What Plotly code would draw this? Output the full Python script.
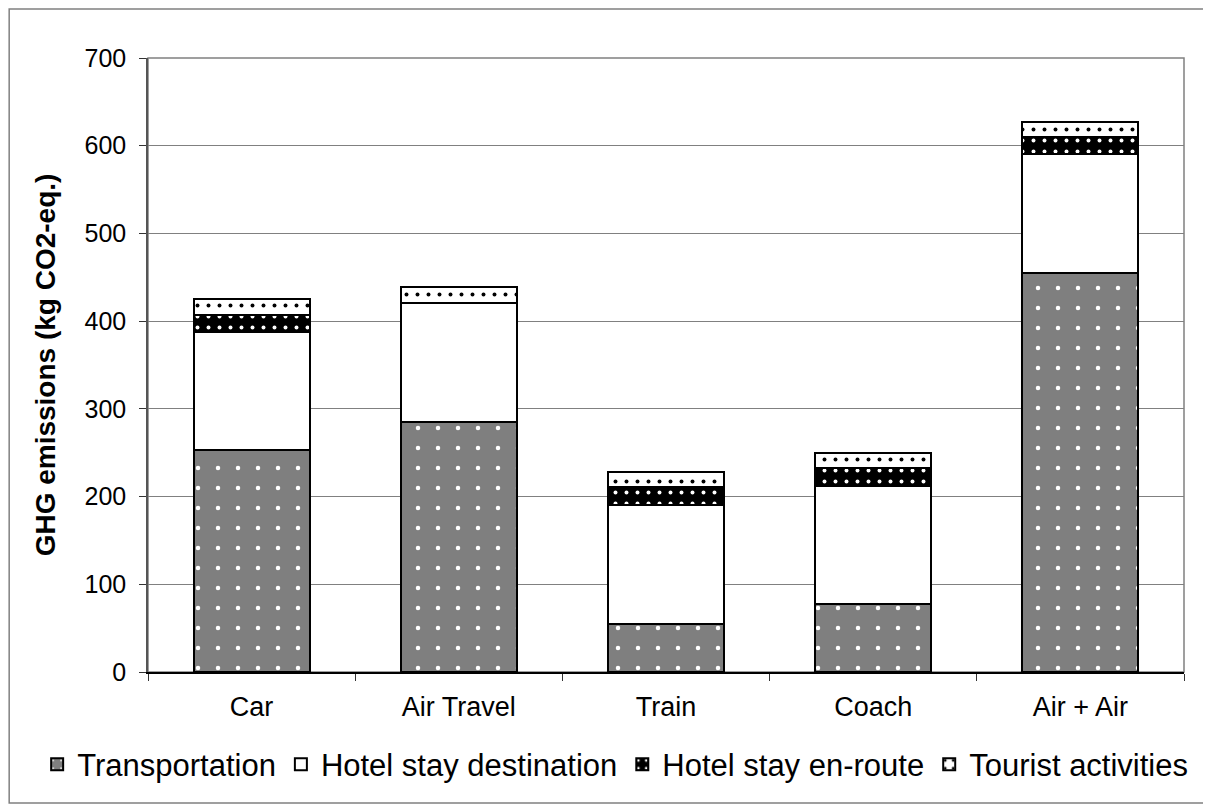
import plotly.graph_objects as go

categories = ["Car", "Air Travel", "Train", "Coach", "Air + Air"]
transportation = [253, 285, 55, 77, 455]
hotel_destination = [135, 136, 135, 135, 136]
hotel_enroute = [19, 0, 21, 21, 19]
tourist_activities = [18, 18, 17, 17, 17]
y_ticks = [0, 100, 200, 300, 400, 500, 600, 700]

FONT = "Liberation Sans, Arial, sans-serif"

series = [
    ("Transportation", transportation, "#7f7f7f", "white", ".", 20, 0.04),
    ("Hotel stay destination", hotel_destination, "white", "white", "", 8, 0.2),
    ("Hotel stay en-route", hotel_enroute, "black", "white", ".", 11, 0.1),
    ("Tourist activities", tourist_activities, "white", "black", ".", 11, 0.1),
]

fig = go.Figure()
for name, vals, bg, fg, shape, size, sol in series:
    pattern = dict(shape=shape, bgcolor=bg, fgcolor=fg, size=size, solidity=sol, fillmode="replace")
    fig.add_trace(go.Bar(
        name=name, x=categories, y=vals,
        marker=dict(color=bg, line=dict(color="black", width=2), pattern=pattern),
    ))

fig.update_layout(
    barmode="stack",
    bargap=0.44,
    width=1211, height=810,
    margin=dict(l=140, r=35, t=50, b=146, autoexpand=False),
    paper_bgcolor="white", plot_bgcolor="white",
    font=dict(family=FONT, color="black"),
    showlegend=True,
    legend=dict(orientation="h", x=-0.107, y=-0.151, xanchor="left", yanchor="middle",
                font=dict(size=31, family=FONT), traceorder="normal",
                itemsizing="constant", itemwidth=30),
    shapes=[
        dict(type="rect", xref="paper", yref="paper", x0=0, x1=1, y0=0, y1=1,
             line=dict(color="#808080", width=1.5), layer="below"),
        dict(type="rect", xref="paper", yref="paper", x0=-0.134, x1=1.0203, y0=-0.2134, y1=1.0798,
             line=dict(color="#808080", width=1.5), layer="below"),
    ],
)
fig.update_yaxes(
    range=[0, 700], tickvals=y_ticks, showgrid=True, gridcolor="#808080", gridwidth=1,
    ticks="outside", ticklen=7, tickcolor="#333333", showline=True, linecolor="#555555", linewidth=1.5,
    tickfont=dict(size=25, family=FONT), zeroline=False, ticklabelstandoff=8,
    title=dict(text="<b>GHG emissions (kg CO2-eq.)</b>", font=dict(size=28, family=FONT), standoff=21),
)
fig.update_xaxes(
    ticks="outside", tickson="boundaries", ticklen=7, tickcolor="#333333",
    showline=True, linecolor="black", linewidth=1.5, ticklabelstandoff=10,
    tickfont=dict(size=27, family=FONT), tickangle=0,
)

fig.write_html("out.html")
